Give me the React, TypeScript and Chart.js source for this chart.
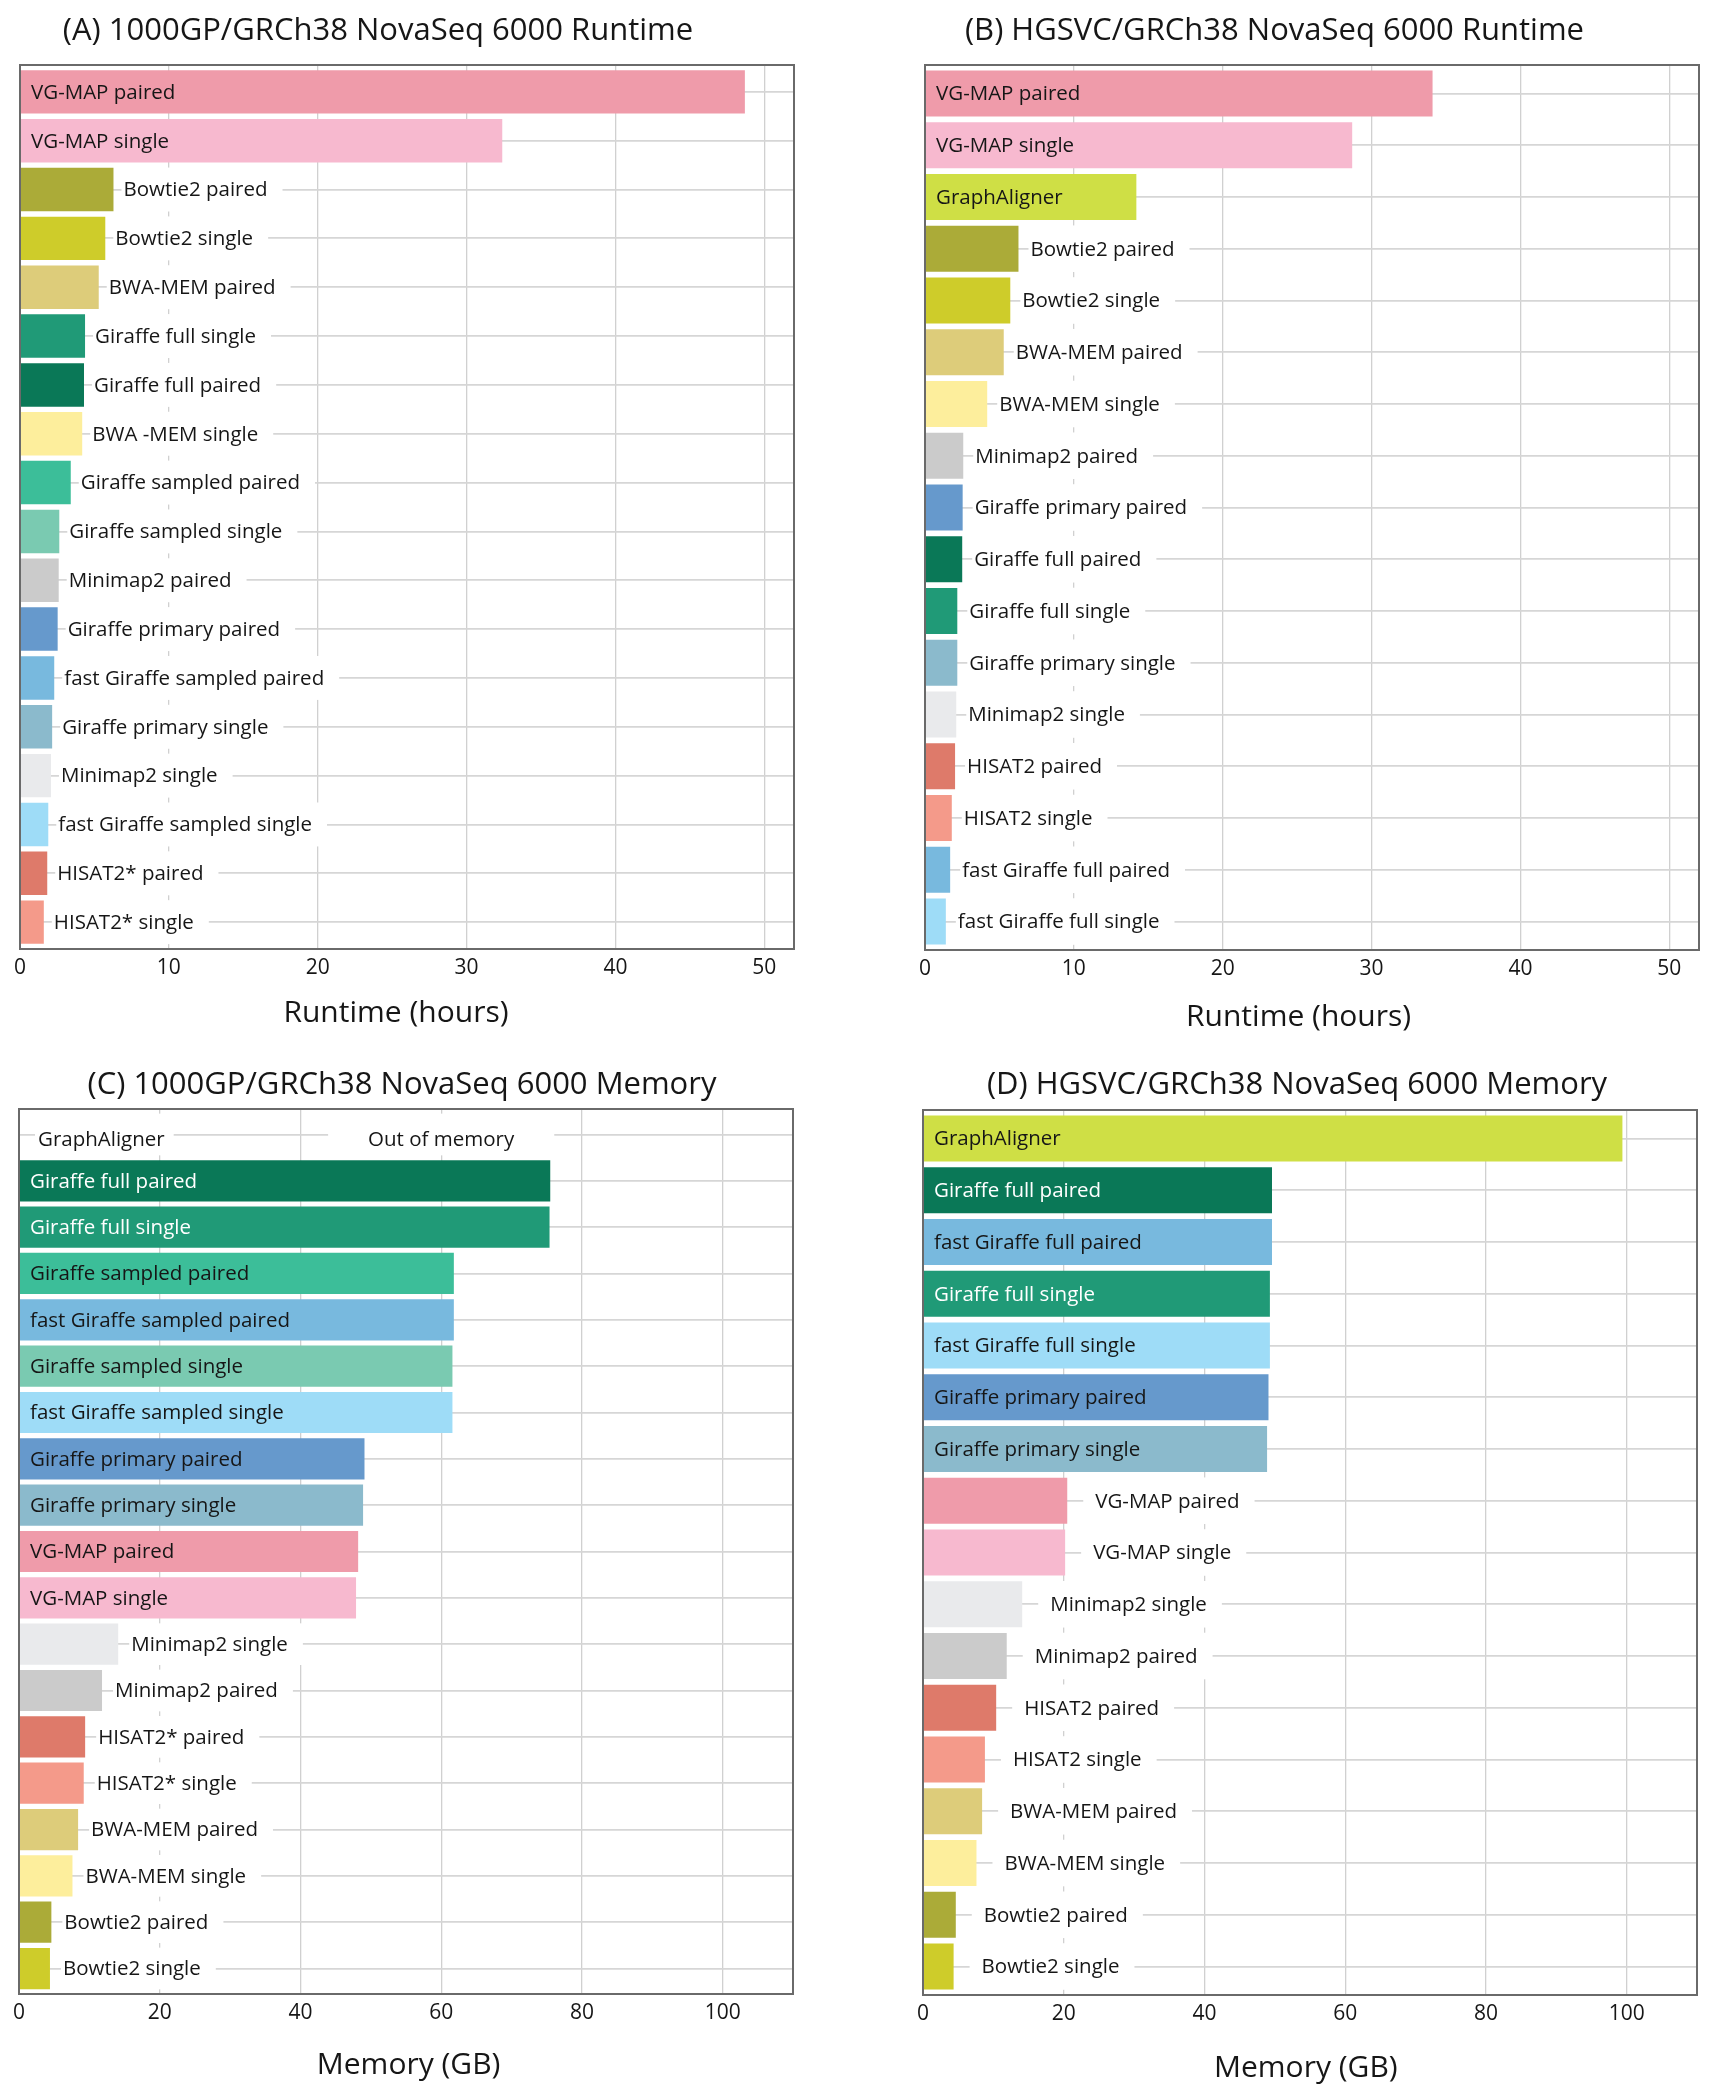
import React, { useEffect, useRef } from "react";
import { Chart, registerables } from "chart.js";

Chart.register(...registerables);

// ---------------- DATA ----------------
const runtime1000gpLabels = [
  "VG-MAP paired", "VG-MAP single", "Bowtie2 paired", "Bowtie2 single", "BWA-MEM paired",
  "Giraffe full single", "Giraffe full paired", "BWA -MEM single", "Giraffe sampled paired",
  "Giraffe sampled single", "Minimap2 paired", "Giraffe primary paired", "fast Giraffe sampled paired",
  "Giraffe primary single", "Minimap2 single", "fast Giraffe sampled single", "HISAT2* paired", "HISAT2* single",
];
const runtime1000gpHours = [48.7, 32.4, 6.28, 5.73, 5.29, 4.37, 4.3, 4.18, 3.41, 2.64, 2.6, 2.53, 2.3, 2.16, 2.08, 1.9, 1.83, 1.6];

const runtimeHgsvcLabels = [
  "VG-MAP paired", "VG-MAP single", "GraphAligner", "Bowtie2 paired", "Bowtie2 single", "BWA-MEM paired",
  "BWA-MEM single", "Minimap2 paired", "Giraffe primary paired", "Giraffe full paired", "Giraffe full single",
  "Giraffe primary single", "Minimap2 single", "HISAT2 paired", "HISAT2 single", "fast Giraffe full paired",
  "fast Giraffe full single",
];
const runtimeHgsvcHours = [34.1, 28.7, 14.2, 6.28, 5.73, 5.29, 4.18, 2.57, 2.53, 2.5, 2.17, 2.17, 2.1, 2.02, 1.8, 1.69, 1.4];

const memory1000gpLabels = [
  "GraphAligner", "Giraffe full paired", "Giraffe full single", "Giraffe sampled paired", "fast Giraffe sampled paired",
  "Giraffe sampled single", "fast Giraffe sampled single", "Giraffe primary paired", "Giraffe primary single",
  "VG-MAP paired", "VG-MAP single", "Minimap2 single", "Minimap2 paired", "HISAT2* paired", "HISAT2* single",
  "BWA-MEM paired", "BWA-MEM single", "Bowtie2 paired", "Bowtie2 single",
];
const memory1000gpGB = [null, 75.5, 75.4, 61.8, 61.8, 61.6, 61.6, 49.1, 48.9, 48.2, 47.9, 14.1, 11.8, 9.4, 9.2, 8.4, 7.6, 4.6, 4.4];
const memory1000gpNoteText = "Out of memory";
const memory1000gpNoteRow = "GraphAligner";
const memory1000gpNoteAt = 60;

const memoryHgsvcLabels = [
  "GraphAligner", "Giraffe full paired", "fast Giraffe full paired", "Giraffe full single", "fast Giraffe full single",
  "Giraffe primary paired", "Giraffe primary single", "VG-MAP paired", "VG-MAP single", "Minimap2 single",
  "Minimap2 paired", "HISAT2 paired", "HISAT2 single", "BWA-MEM paired", "BWA-MEM single", "Bowtie2 paired",
  "Bowtie2 single",
];
const memoryHgsvcGB = [99.4, 49.6, 49.6, 49.3, 49.3, 49.1, 48.9, 20.5, 20.2, 14.1, 11.9, 10.4, 8.8, 8.4, 7.6, 4.66, 4.35];

const panelTitles = [
  "(A) 1000GP/GRCh38 NovaSeq 6000 Runtime",
  "(B) HGSVC/GRCh38 NovaSeq 6000 Runtime",
  "(C) 1000GP/GRCh38 NovaSeq 6000 Memory",
  "(D) HGSVC/GRCh38 NovaSeq 6000 Memory",
];
const runtimeAxisTitle = "Runtime (hours)";
const memoryAxisTitle = "Memory (GB)";

// ---------------- STYLES ----------------
const methodColors: Record<string, string> = {
  "VG-MAP paired": "#ef9baa",
  "VG-MAP single": "#f7b9cf",
  "Bowtie2 paired": "#abab38",
  "Bowtie2 single": "#cecc2a",
  "BWA-MEM paired": "#ddcc7a",
  "BWA-MEM single": "#fdee9c",
  "BWA -MEM single": "#fdee9c",
  "Giraffe full single": "#209a77",
  "Giraffe full paired": "#0a7857",
  "Giraffe sampled paired": "#3cbe99",
  "Giraffe sampled single": "#7acab1",
  "Minimap2 paired": "#cbcbcb",
  "Minimap2 single": "#e9eaec",
  "Giraffe primary paired": "#6699cc",
  "Giraffe primary single": "#8bbacc",
  "fast Giraffe sampled paired": "#78b9de",
  "fast Giraffe full paired": "#78b9de",
  "fast Giraffe sampled single": "#9edcf7",
  "fast Giraffe full single": "#9edcf7",
  "HISAT2* paired": "#de7a6a",
  "HISAT2 paired": "#de7a6a",
  "HISAT2* single": "#f49a8a",
  "HISAT2 single": "#f49a8a",
  "GraphAligner": "#cfdf45",
};

const FONT = "'Open Sans', 'DejaVu Sans', sans-serif";
const TEXT = "#161616";
const EXPAND = 0.55; // discrete-axis expansion (in rows) on each side

function brightness(hex: string) {
  const h = hex.replace("#", "");
  const r = parseInt(h.slice(0, 2), 16), g = parseInt(h.slice(2, 4), 16), b = parseInt(h.slice(4, 6), 16);
  return 0.299 * r + 0.587 * g + 0.114 * b;
}

// draws the bar labels (inside / outside with white backing), notes, frame and titles
const barLabelPlugin = {
  id: "barLabels",
  afterDatasetsDraw(chart: any, _a: any, opts: any) {
    const { ctx } = chart;
    const labels = chart.data.labels as string[];
    const points = chart.data.datasets[0].data as { x: number | null; y: number }[];
    const colors = chart.data.datasets[0].backgroundColor as string[];
    const xs = chart.scales.x;
    const ys = chart.scales.y;
    const rowH = Math.abs(ys.getPixelForValue(1) - ys.getPixelForValue(0));
    const boxH = rowH * 0.9;
    ctx.save();
    ctx.font = `${opts.size}px ${FONT}`;
    ctx.textBaseline = "middle";
    ctx.textAlign = "left";
    const x0 = xs.getPixelForValue(0);
    labels.forEach((label, i) => {
      const yc = ys.getPixelForValue(i);
      const w = ctx.measureText(label).width;
      const v = points[i].x;
      if (v == null) {
        const tx = x0 + opts.emptyPad;
        ctx.fillStyle = "#ffffff";
        ctx.fillRect(tx - 3, yc - boxH / 2, w + 12, boxH);
        ctx.fillStyle = TEXT;
        ctx.fillText(label, tx, yc + 1 + opts.emptyDy);
        return;
      }
      const xe = xs.getPixelForValue(v);
      if (xe - x0 > w + opts.insidePad * 2 + 20) {
        ctx.fillStyle = brightness(colors[i]) < 125 ? "#ffffff" : TEXT;
        ctx.fillText(label, x0 + opts.insidePad, yc + 1);
      } else {
        const tx = xe + opts.gap;
        ctx.fillStyle = "#ffffff";
        ctx.fillRect(tx - opts.boxPadL, yc - boxH / 2, w + opts.boxPadL + opts.boxPadR, boxH);
        ctx.fillStyle = TEXT;
        ctx.fillText(label, tx, yc + 1);
      }
    });
    (opts.notes || []).forEach((n: any) => {
      const i = labels.indexOf(n.row);
      if (i < 0) return;
      const yc = ys.getPixelForValue(i);
      const cx = xs.getPixelForValue(n.at);
      const w = ctx.measureText(n.text).width;
      ctx.fillStyle = "#ffffff";
      ctx.fillRect(cx - w / 2 - 40, yc - boxH / 2, w + 80, boxH);
      ctx.fillStyle = TEXT;
      ctx.textAlign = "center";
      ctx.fillText(n.text, cx, yc + 1 + opts.emptyDy);
      ctx.textAlign = "left";
    });
    ctx.restore();
  },
  afterDraw(chart: any, _a: any, opts: any) {
    const { ctx, chartArea } = chart;
    ctx.save();
    ctx.strokeStyle = "#6a6a6a";
    ctx.lineWidth = 2;
    ctx.strokeRect(chartArea.left, chartArea.top, chartArea.right - chartArea.left, chartArea.bottom - chartArea.top);
    ctx.fillStyle = TEXT;
    ctx.textAlign = "center";
    ctx.textBaseline = "alphabetic";
    ctx.font = `${opts.titleSize}px ${FONT}`;
    ctx.fillText(opts.title, opts.titleX, opts.titleY);
    ctx.font = `${opts.axisSize}px ${FONT}`;
    ctx.fillText(opts.axisTitle, opts.axisX, opts.axisY);
    ctx.restore();
  },
};

type PanelCfg = {
  left: number; top: number; width: number; height: number;
  area: { l: number; t: number; r: number; b: number };
  labels: string[]; values: (number | null)[]; max: number; step: number;
  title: string; titleX: number; titleY: number;
  axisTitle: string; axisX: number; axisY: number;
  gap: number; boxPadL: number; notes?: any[];
};

const AXIS_H = 40;

function Panel({ cfg }: { cfg: PanelCfg }) {
  const ref = useRef<HTMLCanvasElement | null>(null);
  useEffect(() => {
    if (!ref.current) return;
    const n = cfg.labels.length;
    const chart = new Chart(ref.current, {
      type: "bar",
      data: {
        labels: cfg.labels,
        datasets: [{
          data: cfg.values.map((v, i) => ({ x: v, y: i })) as any,
          backgroundColor: cfg.labels.map((l) => methodColors[l] || "#999999"),
          borderWidth: 0,
          barPercentage: 0.89,
          categoryPercentage: 1,
        }],
      },
      options: {
        animation: false,
        responsive: false,
        devicePixelRatio: 1,
        indexAxis: "y",
        layout: {
          padding: {
            left: cfg.area.l,
            top: cfg.area.t,
            right: cfg.width - cfg.area.r,
            bottom: cfg.height - cfg.area.b - AXIS_H,
          },
        },
        plugins: {
          legend: { display: false },
          title: { display: false },
          tooltip: { enabled: false },
          barLabels: {
            size: 20.5, insidePad: 11, emptyPad: 19, emptyDy: 5, gap: cfg.gap, boxPadL: cfg.boxPadL, boxPadR: 15,
            notes: cfg.notes || [],
            title: cfg.title, titleX: cfg.titleX, titleY: cfg.titleY, titleSize: 31,
            axisTitle: cfg.axisTitle, axisX: cfg.axisX, axisY: cfg.axisY, axisSize: 30,
          },
        } as any,
        scales: {
          x: {
            type: "linear",
            min: 0,
            max: cfg.max,
            ticks: {
              stepSize: cfg.step, includeBounds: false, padding: 6, maxRotation: 0,
              color: TEXT, font: { family: FONT, size: 21 },
            },
            grid: { color: "#d0d0d0", lineWidth: 1.3, drawTicks: false },
            border: { display: false },
            afterFit: (s: any) => { s.height = AXIS_H; },
          },
          y: {
            type: "linear",
            reverse: true,
            offset: false,
            min: -EXPAND,
            max: n - 1 + EXPAND,
            ticks: { display: false, stepSize: 1, includeBounds: false },
            grid: { color: "#d6d6d6", lineWidth: 1.8, drawTicks: false, offset: false },
            border: { display: false },
            afterFit: (s: any) => { s.width = 0; },
          },
        },
      },
      plugins: [barLabelPlugin],
    });
    return () => chart.destroy();
  }, [cfg]);
  return (
    <canvas
      ref={ref}
      width={cfg.width}
      height={cfg.height}
      style={{ position: "absolute", left: cfg.left, top: cfg.top, width: cfg.width, height: cfg.height }}
    />
  );
}

const PANELS: PanelCfg[] = [
  {
    left: 0, top: 0, width: 858, height: 1050,
    area: { l: 20, t: 65, r: 794, b: 949 },
    labels: runtime1000gpLabels, values: runtime1000gpHours, max: 52, step: 10,
    title: panelTitles[0], titleX: 378, titleY: 40,
    axisTitle: runtimeAxisTitle, axisX: 396, axisY: 1022,
    gap: 10, boxPadL: 2,
  },
  {
    left: 858, top: 0, width: 859, height: 1050,
    area: { l: 67, t: 65, r: 841, b: 950 },
    labels: runtimeHgsvcLabels, values: runtimeHgsvcHours, max: 52, step: 10,
    title: panelTitles[1], titleX: 1274.5 - 858, titleY: 40,
    axisTitle: runtimeAxisTitle, axisX: 1298.6 - 858, axisY: 1026,
    gap: 12, boxPadL: 2,
  },
  {
    left: 0, top: 1050, width: 858, height: 1050,
    area: { l: 19, t: 59, r: 793, b: 944 },
    labels: memory1000gpLabels, values: memory1000gpGB, max: 110, step: 20,
    title: panelTitles[2], titleX: 402, titleY: 1093.5 - 1050,
    axisTitle: memoryAxisTitle, axisX: 408.6, axisY: 2073.7 - 1050,
    gap: 13, boxPadL: 2,
    notes: [{ row: memory1000gpNoteRow, text: memory1000gpNoteText, at: memory1000gpNoteAt }],
  },
  {
    left: 858, top: 1050, width: 859, height: 1050,
    area: { l: 65, t: 60, r: 839, b: 945 },
    labels: memoryHgsvcLabels, values: memoryHgsvcGB, max: 110, step: 20,
    title: panelTitles[3], titleX: 1297 - 858, titleY: 1093.5 - 1050,
    axisTitle: memoryAxisTitle, axisX: 1305.8 - 858, axisY: 2077 - 1050,
    gap: 28, boxPadL: 12,
  },
];

export default function App() {
  useEffect(() => {
    document.body.style.margin = "0";
    document.body.style.background = "#ffffff";
  }, []);
  return (
    <div style={{ position: "relative", width: 1717, height: 2100, background: "#ffffff" }}>
      {PANELS.map((p, i) => (
        <Panel key={i} cfg={p} />
      ))}
    </div>
  );
}
